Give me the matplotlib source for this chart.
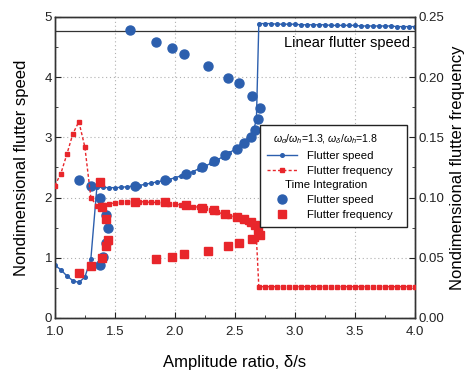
import numpy as np
import matplotlib.pyplot as plt
from matplotlib.lines import Line2D

plt.rcParams['font.family'] = ['Liberation Sans', 'DejaVu Sans']
plt.rcParams['mathtext.fontset'] = 'custom'
plt.rcParams['mathtext.rm'] = 'Liberation Sans'
plt.rcParams['mathtext.it'] = 'Liberation Sans:italic'

BLUE = '#2c5fae'
RED = '#e8262b'

# linear analysis (lines)
x_lin = [1.00, 1.05, 1.10, 1.15, 1.20, 1.25, 1.30, 1.35, 1.40, 1.45, 1.50,
         1.55, 1.60, 1.65, 1.70, 1.75, 1.80, 1.85, 1.90, 1.95, 2.00, 2.05,
         2.10, 2.15, 2.20, 2.25, 2.30, 2.35, 2.40, 2.45, 2.50, 2.55, 2.60,
         2.65, 2.68, 2.70, 2.75, 2.80, 2.85, 2.90, 2.95, 3.00, 3.05, 3.10,
         3.15, 3.20, 3.25, 3.30, 3.35, 3.40, 3.45, 3.50, 3.55, 3.60, 3.65,
         3.70, 3.75, 3.80, 3.85, 3.90, 3.95, 4.00]
speed_lin = [0.88, 0.80, 0.70, 0.62, 0.59, 0.68, 0.98, 2.17, 2.17, 2.165, 2.165,
             2.17, 2.18, 2.19, 2.20, 2.22, 2.24, 2.26, 2.28, 2.30, 2.33, 2.36,
             2.39, 2.43, 2.48, 2.52, 2.57, 2.62, 2.68, 2.74, 2.80, 2.87, 2.95,
             3.07, 3.30, 4.89, 4.89, 4.89, 4.88, 4.88, 4.88, 4.88, 4.87, 4.87,
             4.87, 4.87, 4.87, 4.86, 4.86, 4.86, 4.86, 4.86, 4.85, 4.85, 4.85,
             4.85, 4.85, 4.85, 4.84, 4.84, 4.84, 4.84]
freq_lin = [0.110, 0.120, 0.136, 0.153, 0.163, 0.142, 0.100, 0.093, 0.094, 0.095, 0.0955,
            0.096, 0.096, 0.0965, 0.0965, 0.0965, 0.096, 0.096, 0.0955, 0.095, 0.0945, 0.094,
            0.093, 0.0925, 0.092, 0.091, 0.0895, 0.088, 0.0865, 0.085, 0.084, 0.082, 0.080,
            0.077, 0.066, 0.026, 0.026, 0.026, 0.026, 0.026, 0.026, 0.026, 0.026, 0.026,
            0.026, 0.026, 0.026, 0.026, 0.026, 0.026, 0.026, 0.026, 0.026, 0.026, 0.026,
            0.026, 0.026, 0.026, 0.026, 0.026, 0.026, 0.026]

linear_speed = 4.76

# time integration (symbols)
x_ti_speed = [1.20, 1.30, 1.375, 1.40, 1.43, 1.38, 1.43, 1.44, 1.625, 1.667,
              1.847, 1.917, 1.978, 2.075, 2.089, 2.228, 2.278, 2.325, 2.422,
              2.444, 2.514, 2.536, 2.575, 2.633, 2.644, 2.667, 2.694, 2.714]
speed_ti = [2.29, 2.19, 0.88, 1.01, 1.24, 2.00, 1.71, 1.50, 4.78, 2.20,
            4.59, 2.29, 4.49, 4.39, 2.39, 2.50, 4.19, 2.60, 2.70,
            3.99, 2.80, 3.90, 2.90, 3.00, 3.69, 3.13, 3.30, 3.49]
x_ti_freq = [1.20, 1.30, 1.389, 1.425, 1.44, 1.43, 1.389, 1.375, 1.667, 1.847,
             1.917, 1.978, 2.075, 2.089, 2.228, 2.278, 2.325, 2.422, 2.444,
             2.514, 2.536, 2.575, 2.633, 2.644, 2.667, 2.694, 2.714]
freq_ti = [0.037, 0.043, 0.050, 0.060, 0.065, 0.082, 0.0925, 0.113, 0.0966, 0.049,
           0.096, 0.051, 0.053, 0.094, 0.0916, 0.056, 0.0897, 0.0864, 0.060,
           0.084, 0.062, 0.082, 0.080, 0.066, 0.077, 0.073, 0.069]

fig = plt.figure(figsize=(4.65, 3.77), dpi=100)
ax = fig.add_axes([0.118, 0.1565, 0.774, 0.7985])
ax2 = ax.twinx()

ax.axhline(linear_speed, color='#333333', lw=0.9, zorder=2)
ax.text(3.96, 4.68, 'Linear flutter speed', ha='right', va='top', fontsize=10.5)

l1, = ax.plot(x_lin, speed_lin, '-o', color=BLUE, lw=1.0, ms=2.6, zorder=3)
c1, = ax.plot(x_ti_speed, speed_ti, 'o', color=BLUE, ms=6.5, ls='none', zorder=4)

l2, = ax2.plot(x_lin, freq_lin, 's', color=RED, ls=(0, (2.2, 1.6)), lw=1.0,
               ms=2.4, zorder=3)
s2, = ax2.plot(x_ti_freq, freq_ti, 's', color=RED, ms=5.8, ls='none', zorder=4)

ax.set_xlim(1.0, 4.0)
ax.set_ylim(0, 5)
ax2.set_ylim(0, 0.25)
ax.set_xticks(np.arange(1.0, 4.01, 0.5))
ax.set_xticks(np.arange(1.0, 4.01, 0.25), minor=True)
ax.set_yticks(range(0, 6))
ax.set_yticks(np.arange(0, 5.01, 0.5), minor=True)
ax2.set_yticks(np.arange(0, 0.251, 0.05))
ax2.set_yticks(np.arange(0, 0.251, 0.025), minor=True)
ax.set_xticklabels(['%.1f' % v for v in np.arange(1.0, 4.01, 0.5)])
ax2.set_yticklabels(['%.2f' % v for v in np.arange(0, 0.251, 0.05)])

ax.grid(True, which='major', ls=(0, (1, 2.5)), color='#b0b0b0', lw=0.8)
for a in (ax, ax2):
    a.tick_params(which='both', direction='in', labelsize=9.5, colors='#222222')
    a.tick_params(which='major', length=4)
    a.tick_params(which='minor', length=2)
    for sp in a.spines.values():
        sp.set_color('#333333')
        sp.set_linewidth(1.0)
ax.tick_params(axis='y', pad=2)
ax2.tick_params(axis='y', pad=3)
ax.tick_params(axis='x', pad=6)

ax.set_xlabel('Amplitude ratio, δ/s', fontsize=12, labelpad=12)
ax.set_ylabel('Nondimensional flutter speed', fontsize=12, labelpad=11)
ax2.set_ylabel('Nondimensional flutter frequency', fontsize=12, labelpad=4)

blank = Line2D([], [], ls='none', marker='none')
handles = [blank, l1, l2, blank, c1, s2]
labels = [r'$\omega_\alpha/\omega_h$=1.3, $\omega_\delta/\omega_h$=1.8',
          'Flutter speed', 'Flutter frequency', 'Time Integration',
          'Flutter speed', 'Flutter frequency']
leg = ax2.legend(handles, labels, loc='upper left',
                 bbox_to_anchor=(0.569, 0.303, 0.408, 0.338), mode='expand',
                 fontsize=8.2, frameon=True, fancybox=False, framealpha=1,
                 edgecolor='#222222', handlelength=2.6, handletextpad=0.9,
                 labelspacing=0.42, borderpad=0.65, borderaxespad=0)
leg.get_frame().set_linewidth(1.0)
leg.set_zorder(10)
txts = leg.get_texts()
txts[0].set_fontsize(7.6)
txts[0].set_x(-34)
txts[3].set_x(-22)

fig.savefig('out.png', dpi=100)
